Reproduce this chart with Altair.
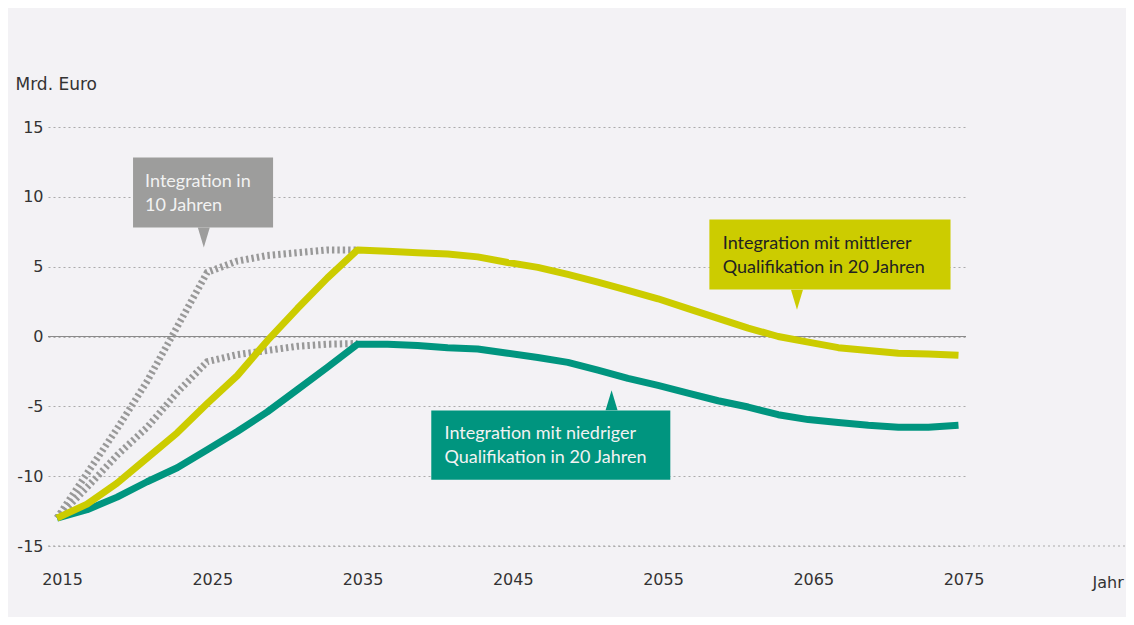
import altair as alt
import pandas as pd

# ---- data ----
years_main = [2015, 2017, 2019, 2021, 2023, 2025, 2027, 2029, 2031, 2033, 2035,
              2037, 2039, 2041, 2043, 2045, 2047, 2049, 2051, 2053, 2055,
              2057, 2059, 2061, 2063, 2065, 2067, 2069, 2071, 2073, 2075]
mittel_20 = [-13.0, -12.0, -10.5, -8.7, -6.9, -4.8, -2.8, -0.3, 2.0, 4.2, 6.2,
             6.1, 6.0, 5.9, 5.7, 5.3, 4.95, 4.45, 3.9, 3.3, 2.7,
             2.0, 1.3, 0.6, 0.0, -0.4, -0.8, -1.0, -1.2, -1.25, -1.35]
niedrig_20 = [-13.0, -12.4, -11.5, -10.4, -9.4, -8.1, -6.8, -5.4, -3.8, -2.2, -0.55,
              -0.55, -0.65, -0.8, -0.9, -1.2, -1.5, -1.85, -2.4, -3.0, -3.5,
              -4.05, -4.6, -5.05, -5.6, -5.95, -6.15, -6.35, -6.5, -6.5, -6.35]

years_10 = [2015, 2017, 2019, 2021, 2023, 2025, 2027, 2029, 2031, 2033, 2035]
mittel_10 = [-13.0, -9.8, -6.6, -3.2, 0.7, 4.6, 5.4, 5.8, 6.0, 6.2, 6.2]
niedrig_10 = [-13.0, -10.8, -8.5, -6.5, -4.0, -1.8, -1.3, -1.0, -0.7, -0.55, -0.5]

x_ticks = [2015, 2025, 2035, 2045, 2055, 2065, 2075]
y_ticks = [-15, -10, -5, 0, 5, 10, 15]

# ---- tables ----
solid = pd.concat([
    pd.DataFrame({"Jahr": years_main, "Wert": niedrig_20, "Serie": "niedrig_20"}),
    pd.DataFrame({"Jahr": years_main, "Wert": mittel_20, "Serie": "mittel_20"}),
])
dotted = pd.concat([
    pd.DataFrame({"Jahr": years_10, "Wert": mittel_10, "Serie": "mittel_10"}),
    pd.DataFrame({"Jahr": years_10, "Wert": niedrig_10, "Serie": "niedrig_10"}),
])

ann = pd.DataFrame({
    "id": ["g", "y", "t"],
    "x1": [2020.06, 2058.42, 2039.91],
    "x2": [2029.38, 2074.47, 2055.82],
    "y1": [12.81, 8.375, -5.297],
    "y2": [7.80, 3.364, -10.26],
    "tx": [2020.86, 2059.31, 2040.79],
    "ty": [10.67, 6.278, -7.32],
    "label": ["Integration in\n10 Jahren",
              "Integration mit mittlerer\nQualifikation in 20 Jahren",
              "Integration mit niedriger\nQualifikation in 20 Jahren"],
    "px": [2024.77, 2064.25, 2051.91],
    "py": [7.087, 2.636, -4.56],
})

BG = "#f3f2f5"
YEL = "#cccc00"
TEAL = "#00957f"
GREY = "#9d9d9c"
FONT_AX = "DejaVu Sans"
FONT_AN = "Lato"

xs = alt.Scale(domain=[2014.4, 2075.5], nice=False, zero=False)
ys = alt.Scale(domain=[-15, 15], nice=False)

xax = alt.Axis(values=x_ticks, format="d", grid=False, domain=False, ticks=False,
               labelFont=FONT_AX, labelFontSize=16, labelColor="#333333",
               labelPadding=25, labelOffset=5, labelBaseline="top",
               title="Jahr", titleFont=FONT_AX, titleFontSize=16,
               titleFontWeight="normal", titleColor="#333333",
               titleAlign="left", titleBaseline="alphabetic",
               titleX=1044, titleY=41, titleAnchor="start")
yax = alt.Axis(values=y_ticks, grid=True, gridDash=[2, 3], gridColor="#ababab",
               gridWidth=1, domain=False, ticks=False,
               labelExpr="datum.value < 0 ? '-' + abs(datum.value) : '' + datum.value",
               labelFont=FONT_AX, labelFontSize=16, labelColor="#333333",
               labelPadding=5, labelBaseline="middle",
               title="Mrd. Euro", titleFont=FONT_AX, titleFontSize=17,
               titleFontWeight="normal", titleColor="#333333",
               titleAngle=0, titleAlign="left", titleBaseline="alphabetic",
               titleX=-33, titleY=-38, titleAnchor="start")

base_axes = alt.Chart(pd.DataFrame({"Jahr": [2015], "Wert": [0]})).mark_point(opacity=0).encode(
    x=alt.X("Jahr:Q", scale=xs, axis=xax),
    y=alt.Y("Wert:Q", scale=ys, axis=yax),
)

zero_line = alt.Chart(pd.DataFrame({"a": [2014.4], "b": [2075.5], "v": [0]})).mark_rule(
    color="#8a8a8a", strokeWidth=1).encode(
    x=alt.X("a:Q", scale=xs), x2="b:Q", y=alt.Y("v:Q", scale=ys))

bottom_line = alt.Chart(pd.DataFrame({"v": [-15]})).mark_rule(
    color="#ababab", strokeWidth=1, strokeDash=[2, 3]).encode(
    x=alt.value(0), x2=alt.value(1090), y=alt.Y("v:Q", scale=ys))

dot_lines = alt.Chart(dotted).mark_line(
    color="#999999", strokeWidth=7, strokeDash=[2.4, 3], strokeCap="butt").encode(
    x=alt.X("Jahr:Q", scale=xs), y=alt.Y("Wert:Q", scale=ys), detail="Serie:N")

solid_lines = alt.Chart(solid).mark_line(strokeWidth=7, strokeCap="butt", strokeJoin="round").encode(
    x=alt.X("Jahr:Q", scale=xs), y=alt.Y("Wert:Q", scale=ys),
    color=alt.Color("Serie:N", scale=alt.Scale(domain=["niedrig_20", "mittel_20"],
                                               range=[TEAL, YEL]), legend=None),
    order=alt.Order("Jahr:Q"))

box_color = alt.Color("id:N", scale=alt.Scale(domain=["g", "y", "t"], range=[GREY, YEL, TEAL]),
                      legend=None)

boxes = alt.Chart(ann).mark_rect().encode(
    x=alt.X("x1:Q", scale=xs), x2="x2:Q",
    y=alt.Y("y1:Q", scale=ys), y2="y2:Q", color=box_color)

down = "M-0.6,-1L0.6,-1L0,1Z"
up = "M-0.6,1L0.6,1L0,-1Z"
pointers_down = alt.Chart(ann[ann["id"] != "t"]).mark_point(
    shape=down, filled=True, size=400, opacity=1, strokeWidth=0).encode(
    x=alt.X("px:Q", scale=xs), y=alt.Y("py:Q", scale=ys), color=box_color)
pointers_up = alt.Chart(ann[ann["id"] == "t"]).mark_point(
    shape=up, filled=True, size=400, opacity=1, strokeWidth=0).encode(
    x=alt.X("px:Q", scale=xs), y=alt.Y("py:Q", scale=ys), color=box_color)

texts = alt.Chart(ann).mark_text(
    align="left", baseline="alphabetic", font=FONT_AN, fontSize=18, lineHeight=24,
    lineBreak="\n").encode(
    x=alt.X("tx:Q", scale=xs), y=alt.Y("ty:Q", scale=ys),
    text="label:N",
    color=alt.Color("id:N", scale=alt.Scale(domain=["g", "y", "t"],
                                            range=["#f2f2f2", "#222222", "#f2f2f2"]),
                    legend=None))

chart = alt.layer(
    base_axes, bottom_line, zero_line, dot_lines, solid_lines, boxes,
    pointers_down, pointers_up, texts
).resolve_scale(color="independent").properties(
    width=918, height=419,
    autosize=alt.AutoSizeParams(type="none"),
    padding={"left": 40, "top": 119, "right": 160, "bottom": 71},
    background=BG,
).configure_view(stroke=None)

chart.save("out.html", embed_options={"renderer": "svg", "actions": False})
